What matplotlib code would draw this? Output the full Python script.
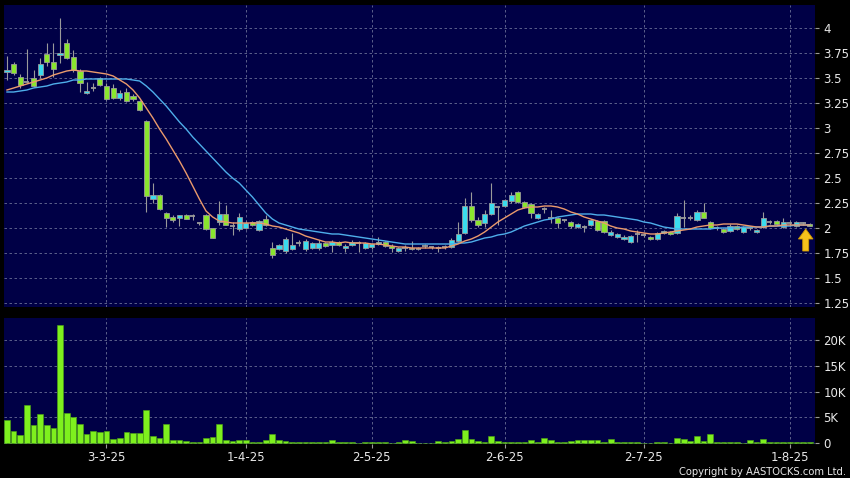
import matplotlib
matplotlib.use("Agg")
import matplotlib.pyplot as plt
from matplotlib.patches import FancyArrow
import numpy as np

# daily candles (HKD)
opens = [3.56, 3.64, 3.51, 3.46, 3.50, 3.53, 3.74, 3.66, 3.73, 3.85,
         3.71, 3.57, 3.35, 3.40, 3.50, 3.42, 3.40, 3.30, 3.36, 3.32,
         3.27, 3.07, 2.29, 2.33, 2.15, 2.11, 2.10, 2.13, 2.12, 2.05,
         2.13, 2.00, 2.06, 2.14, 2.02, 1.99, 2.00, 2.06, 1.98, 2.09,
         1.80, 1.79, 1.77, 1.79, 1.85, 1.79, 1.80, 1.80, 1.85, 1.83,
         1.86, 1.80, 1.83, 1.85, 1.80, 1.81, 1.84, 1.86, 1.82, 1.77,
         1.80, 1.80, 1.79, 1.82, 1.81, 1.80, 1.81, 1.81, 1.87, 1.95,
         2.22, 2.08, 2.05, 2.14, 2.21, 2.22, 2.27, 2.36, 2.26, 2.24,
         2.10, 2.19, 2.10, 2.10, 2.08, 2.06, 2.01, 2.01, 2.03, 2.07,
         2.07, 1.93, 1.91, 1.89, 1.86, 1.94, 1.93, 1.91, 1.89, 1.95,
         1.96, 1.95, 2.10, 2.10, 2.08, 2.16, 2.06, 2.00, 1.99, 1.97,
         2.02, 1.96, 2.00, 1.96, 2.01, 2.06, 2.07, 2.01, 2.05, 2.02,
         2.05, 2.04]
highs = [3.72, 3.66, 3.54, 3.79, 3.58, 3.70, 3.85, 3.85, 4.10, 3.89,
         3.78, 3.59, 3.46, 3.45, 3.51, 3.45, 3.44, 3.38, 3.40, 3.34,
         3.28, 3.08, 2.45, 2.34, 2.16, 2.13, 2.13, 2.14, 2.14, 2.06,
         2.14, 2.00, 2.27, 2.23, 2.06, 2.15, 2.07, 2.07, 2.08, 2.13,
         1.86, 1.84, 1.91, 1.95, 1.88, 1.89, 1.86, 1.88, 1.86, 1.88,
         1.87, 1.84, 1.88, 1.87, 1.86, 1.85, 1.91, 1.87, 1.84, 1.81,
         1.83, 1.87, 1.81, 1.84, 1.82, 1.82, 1.83, 1.90, 2.06, 2.30,
         2.36, 2.11, 2.18, 2.45, 2.22, 2.29, 2.36, 2.37, 2.27, 2.25,
         2.15, 2.21, 2.18, 2.11, 2.09, 2.07, 2.05, 2.03, 2.09, 2.08,
         2.08, 1.98, 1.95, 1.93, 1.93, 1.98, 1.95, 1.92, 1.96, 1.98,
         1.97, 2.15, 2.28, 2.13, 2.18, 2.25, 2.07, 2.02, 2.00, 2.04,
         2.03, 2.02, 2.02, 1.99, 2.16, 2.08, 2.08, 2.10, 2.07, 2.07,
         2.06, 2.05]
lows = [3.48, 3.53, 3.40, 3.45, 3.41, 3.50, 3.62, 3.51, 3.65, 3.69,
        3.56, 3.36, 3.34, 3.37, 3.42, 3.28, 3.29, 3.28, 3.26, 3.27,
        3.17, 2.16, 2.25, 2.18, 2.01, 2.06, 2.02, 2.09, 2.08, 2.03,
        1.98, 1.90, 2.03, 2.03, 1.93, 1.97, 1.99, 2.02, 1.97, 2.02,
        1.70, 1.78, 1.75, 1.78, 1.82, 1.77, 1.79, 1.78, 1.81, 1.76,
        1.82, 1.76, 1.82, 1.76, 1.79, 1.79, 1.83, 1.81, 1.76, 1.76,
        1.77, 1.78, 1.78, 1.80, 1.79, 1.76, 1.79, 1.80, 1.86, 1.94,
        2.06, 2.01, 2.01, 2.13, 2.03, 2.21, 2.25, 2.25, 2.20, 2.10,
        2.09, 2.15, 2.05, 2.00, 2.06, 2.00, 2.00, 1.96, 2.02, 1.97,
        1.95, 1.92, 1.90, 1.88, 1.85, 1.86, 1.91, 1.88, 1.88, 1.94,
        1.93, 1.94, 2.01, 2.08, 2.07, 2.10, 1.99, 1.98, 1.95, 1.96,
        1.98, 1.95, 1.98, 1.95, 2.00, 2.04, 2.03, 2.00, 2.03, 2.01,
        2.03, 2.02]
closes = [3.58, 3.55, 3.43, 3.46, 3.42, 3.64, 3.66, 3.59, 3.75, 3.70,
          3.58, 3.45, 3.37, 3.40, 3.43, 3.29, 3.30, 3.35, 3.27, 3.29,
          3.18, 2.32, 2.33, 2.19, 2.10, 2.08, 2.13, 2.09, 2.12, 2.05,
          1.99, 1.90, 2.14, 2.03, 2.02, 2.11, 2.05, 2.03, 2.07, 2.03,
          1.73, 1.83, 1.89, 1.83, 1.85, 1.87, 1.85, 1.85, 1.82, 1.86,
          1.83, 1.82, 1.86, 1.85, 1.85, 1.84, 1.86, 1.82, 1.80, 1.80,
          1.80, 1.79, 1.79, 1.82, 1.81, 1.80, 1.81, 1.88, 1.94, 2.22,
          2.08, 2.03, 2.14, 2.25, 2.21, 2.28, 2.33, 2.26, 2.21, 2.15,
          2.14, 2.19, 2.10, 2.05, 2.08, 2.02, 2.04, 2.01, 2.08, 1.98,
          1.96, 1.96, 1.94, 1.91, 1.92, 1.94, 1.93, 1.89, 1.95, 1.97,
          1.94, 2.12, 2.10, 2.10, 2.16, 2.10, 2.00, 2.00, 1.96, 2.02,
          1.99, 2.01, 2.00, 1.98, 2.10, 2.06, 2.04, 2.06, 2.05, 2.06,
          2.05, 2.02]

# volume in thousands of shares
volume_k = [4.5, 2.3, 1.6, 7.4, 3.5, 5.7, 3.4, 3.0, 22.9, 5.8,
            5.0, 3.7, 1.7, 2.3, 2.1, 2.3, 0.8, 1.0, 2.2, 1.9,
            2.0, 6.5, 1.4, 1.0, 3.6, 0.6, 0.5, 0.4, 0.2, 0.2,
            1.0, 1.1, 3.7, 0.6, 0.3, 0.6, 0.5, 0.1, 0.2, 0.6,
            1.8, 0.5, 0.3, 0.2, 0.1, 0.15, 0.15, 0.15, 0.1, 0.6,
            0.1, 0.15, 0.15, 0.05, 0.2, 0.1, 0.15, 0.15, 0.05, 0.1,
            0.6, 0.3, 0.05, 0.05, 0.05, 0.3, 0.2, 0.4, 0.7, 2.5,
            0.85, 0.4, 0.1, 1.35, 0.4, 0.2, 0.2, 0.2, 0.1, 0.5,
            0.1, 1.0, 0.6, 0.25, 0.25, 0.45, 0.5, 0.5, 0.6, 0.6,
            0.1, 0.8, 0.1, 0.25, 0.25, 0.1, 0.05, 0.05, 0.2, 0.1,
            0.05, 1.0, 0.7, 0.4, 1.4, 0.4, 1.8, 0.1, 0.1, 0.25,
            0.1, 0.05, 0.6, 0.25, 0.85, 0.25, 0.2, 0.15, 0.15, 0.1,
            0.25, 0.1]

# moving averages as drawn on the chart
ma10 = [3.38, 3.40, 3.42, 3.44, 3.46, 3.48, 3.50, 3.53, 3.55, 3.57,
        3.58, 3.57, 3.57, 3.56, 3.55, 3.54, 3.52, 3.48, 3.44, 3.38,
        3.30, 3.20, 3.10, 2.99, 2.89, 2.78, 2.67, 2.55, 2.42, 2.29,
        2.17, 2.11, 2.07, 2.06, 2.05, 2.05, 2.05, 2.05, 2.05, 2.04,
        2.02, 2.01, 1.99, 1.97, 1.95, 1.92, 1.90, 1.88, 1.86, 1.86,
        1.85, 1.86, 1.85, 1.85, 1.85, 1.84, 1.84, 1.83, 1.82, 1.81,
        1.81, 1.80, 1.80, 1.80, 1.80, 1.80, 1.80, 1.82, 1.84, 1.87,
        1.89, 1.92, 1.96, 2.01, 2.06, 2.10, 2.14, 2.18, 2.20, 2.21,
        2.21, 2.22, 2.22, 2.21, 2.19, 2.16, 2.14, 2.11, 2.09, 2.07,
        2.05, 2.02, 2.00, 1.99, 1.97, 1.96, 1.95, 1.94, 1.94, 1.95,
        1.96, 1.97, 1.98, 1.99, 2.01, 2.02, 2.03, 2.03, 2.04, 2.04,
        2.04, 2.03, 2.02, 2.01, 2.01, 2.02, 2.02, 2.03, 2.03, 2.03,
        2.03, 2.03]
ma20 = [3.36, 3.36, 3.37, 3.38, 3.40, 3.41, 3.42, 3.44, 3.45, 3.46,
        3.48, 3.48, 3.49, 3.49, 3.49, 3.49, 3.49, 3.49, 3.49, 3.48,
        3.47, 3.42, 3.36, 3.29, 3.22, 3.14, 3.06, 2.99, 2.91, 2.84,
        2.77, 2.70, 2.63, 2.56, 2.50, 2.45, 2.38, 2.31, 2.23, 2.15,
        2.09, 2.05, 2.03, 2.01, 1.99, 1.98, 1.97, 1.96, 1.95, 1.94,
        1.94, 1.93, 1.92, 1.91, 1.90, 1.89, 1.88, 1.87, 1.86, 1.85,
        1.84, 1.84, 1.84, 1.84, 1.84, 1.84, 1.84, 1.84, 1.85, 1.85,
        1.86, 1.88, 1.90, 1.91, 1.93, 1.94, 1.96, 1.99, 2.02, 2.04,
        2.06, 2.08, 2.09, 2.11, 2.12, 2.13, 2.14, 2.14, 2.14, 2.13,
        2.13, 2.12, 2.11, 2.10, 2.09, 2.08, 2.06, 2.05, 2.03, 2.01,
        2.00, 1.99, 1.99, 1.99, 1.99, 1.99, 1.99, 2.00, 2.00, 2.00,
        2.00, 2.01, 2.01, 2.01, 2.01, 2.02, 2.02, 2.02, 2.02, 2.03,
        2.03, 2.03]

date_ticks = [15, 36, 55, 75, 96, 118]
date_labels = ["3-3-25", "1-4-25", "2-5-25", "2-6-25", "2-7-25", "1-8-25"]
price_ticks = [1.25, 1.5, 1.75, 2, 2.25, 2.5, 2.75, 3, 3.25, 3.5, 3.75, 4]
vol_ticks = [0, 5, 10, 15, 20]

BG = "#000046"
GRID = "#6a6e96"
UP = "#3adcee"
DOWN = "#8ae62e"
EDGE = "#9a9a9a"
TXT = "#e8e8e8"

o = np.array(opens)
h = np.array(highs)
l = np.array(lows)
c = np.array(closes)
x = np.arange(len(c))

fig = plt.figure(figsize=(8.5, 4.78), dpi=100, facecolor="black")
ax = fig.add_axes([4 / 850, 1 - 307 / 478, 811 / 850, 302 / 478])
axv = fig.add_axes([4 / 850, 1 - 444 / 478, 811 / 850, 126 / 478])

for a in (ax, axv):
    a.set_facecolor(BG)
    for s in a.spines.values():
        s.set_visible(False)
    a.set_xlim(-0.45, 121.8)
    a.set_xticks(date_ticks)
    a.grid(True, color=GRID, linestyle=(0, (3, 3)), linewidth=0.6)
    a.set_axisbelow(True)
    a.yaxis.tick_right()
    a.tick_params(axis="y", colors=EDGE, labelcolor=TXT, length=3, pad=3,
                  labelsize=8.5)

# price panel
ax.set_ylim(1.21, 4.23)
ax.set_yticks(price_ticks)
ax.set_yticklabels([f"{t:g}" for t in price_ticks])
ax.tick_params(axis="x", length=0, labelbottom=False)

ax.vlines(x, l, h, color=EDGE, linewidth=0.8, zorder=2)
up = c > o
dn = c < o
eq = c == o
bw = 0.78
ax.bar(x[up], (c - o)[up], bottom=o[up], width=bw, color=UP,
       edgecolor=EDGE, linewidth=0.6, zorder=3)
ax.bar(x[dn], (o - c)[dn], bottom=c[dn], width=bw, color=DOWN,
       edgecolor=EDGE, linewidth=0.6, zorder=3)
ax.hlines(c[eq], x[eq] - bw / 2, x[eq] + bw / 2, color=EDGE, linewidth=1.3,
          zorder=3)

ax.plot(x, ma20, color="#4eaeea", linewidth=1.0, zorder=4)
ax.plot(x, ma10, color="#eb9a6c", linewidth=1.0, zorder=4)

# arrow marking the latest bar
last = len(c) - 1
ax.add_patch(FancyArrow(last - 0.6, c[last] - 0.25, 0, 0.22, width=0.9,
                        head_width=2.2, head_length=0.1,
                        length_includes_head=True, facecolor="#f6c21c",
                        edgecolor="#d09a00", linewidth=0.6, zorder=5))

# volume panel
axv.set_ylim(-0.2, 24.3)
axv.set_yticks(vol_ticks)
axv.set_yticklabels([f"{t}K" if t else "0" for t in vol_ticks])
axv.bar(x, volume_k, width=0.86, color="#7ef01e", edgecolor="#4fa812",
        linewidth=0.4, zorder=3)
axv.set_xticklabels(date_labels)
axv.tick_params(axis="x", colors=EDGE, labelcolor=TXT, length=3, pad=2,
                labelsize=8.5)

fig.text(0.995, 0.002, "Copyright by AASTOCKS.com Ltd.", color=TXT,
         fontsize=7.2, ha="right", va="bottom")

fig.savefig("out.png", dpi=100, facecolor="black")
